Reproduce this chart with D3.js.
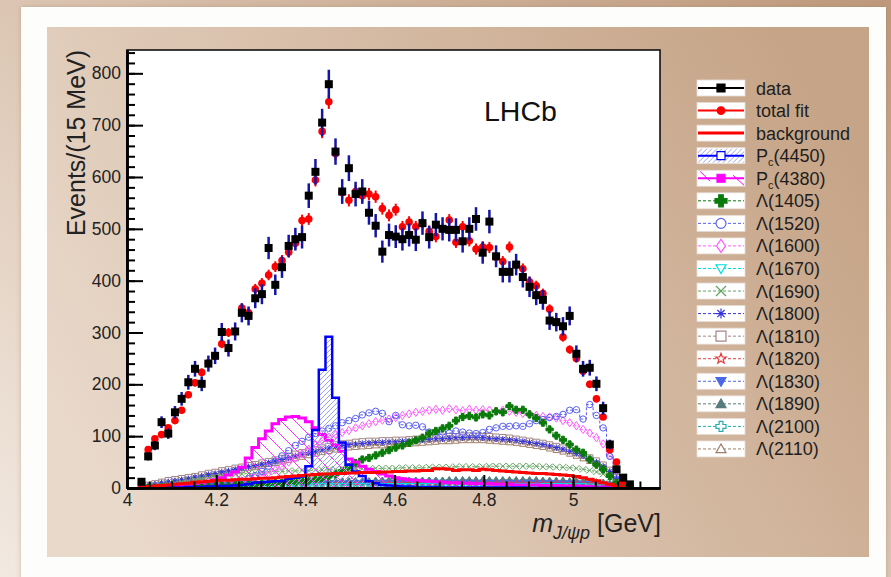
<!DOCTYPE html>
<html>
<head>
<meta charset="utf-8">
<script src="https://cdn.jsdelivr.net/npm/d3@7"></script>
<style>
  body { margin: 0; }
  svg { display: block; font-family: "Liberation Sans", Arial, Helvetica, sans-serif; }
</style>
</head>
<body>
<svg id="chart" width="891" height="577"></svg>
<script>
// ---- binning of m(J/psi p): 15 MeV bins ----
const binStart = 4.025;
const binWidth = 0.015;

// ---- measured and fitted yields per bin ----
const dataCounts = [12,61,82,127,105,146,172,204,230,201, 240,255,301,270,302,338,332,366,374,463,
  392,426,467,480,484,564,610,705,779,649, 572,617,567,572,531,506,456,488,485,480,
  488,479,511,484,508,500,498,498,476,500, 519,454,514,447,417,417,431,407,388,372,
  363,323,320,312,332,259,230,232,201,154, 84,36,20,7];
const fitCounts = [10,74,95,103,116,130,150,180,203,223, 241,255,278,300,302,347,338,384,395,411,
  427,439,455,472,516,519,594,688,745,645, 570,555,572,564,567,562,539,526,537,504,
  513,504,510,495,485,500,517,474,504,477, 461,465,464,445,437,465,430,423,398,390,
  375,345,320,291,267,250,225,200,172,137, 74,50,13,3];

// ---- fit components ----
const background = [1,3,4,5,6,7,8,9,11,12, 13,14,15,15,16,17,17,18,19,19,
  20,21,22,23,24,25,26,27,27,28, 28,29,29,30,30,30,31,31,32,32,
  33,33,34,34,37,37,36,34,35,35, 34,36,35,34,33,32,31,30,29,28,
  28,27,26,25,24,22,20,17,14,10, 7,4,2,0];
const pc4450 = [0,0,0,0,1,1,1,2,2,2, 3,3,4,4,5,6,7,10,11,12,
  13,13,18,20,22,42,112,228,292,174, 88,45,32,23,13,9,6,5,4,3,
  3,2,2,2,2,1,1,1,1,1, 1,1,1,1,1,1,1,1,0,0,
  0,0,0,0,0,0,0,0,0,0, 0,0,0,0];
const pc4380 = [0,1,1,2,3,4,5,7,9,11, 13,16,20,25,31,40,58,78,95,110,
  124,132,137,138,135,128,116,103,92,83, 71,56,50,42,36,32,27,23,20,18,
  16,15,14,13,12,11,10,10,9,9, 8,8,8,7,7,7,6,6,6,6,
  5,5,5,4,4,4,3,3,2,2, 1,1,0,0];
const lambda1405 = [0,0,0,1,1,1,2,2,2,3, 3,3,4,4,5,5,6,6,7,8,
  9,10,11,12,13,15,17,19,22,27, 33,40,48,55,58,63,68,73,78,82,
  87,92,97,105,110,115,120,130,137,139, 136,142,140,148,146,158,151,151,142,135,
  126,113,101,93,84,74,68,55,45,36, 23,10,3,0];
const lambda1520 = [0,0,0,0,0,0,1,1,2,3, 4,5,6,8,10,13,18,24,32,42,
  52,62,72,82,90,98,105,110,115,120, 126,130,134,141,145,148,144,128,140,122,
  120,121,118,108,106,108,106,110,108,106, 105,107,113,116,119,119,120,119,124,130,
  132,136,138,142,150,151,133,161,140,116, 61,25,8,1];
const lambda1600 = [0,0,0,1,1,2,2,3,4,5, 6,7,8,10,12,14,17,20,24,29,
  35,42,50,58,66,75,84,92,98,103, 107,111,116,120,124,128,131,133,136,140,
  143,146,148,150,152,150,153,151,149,152, 150,151,150,148,150,148,146,144,142,140,
  138,137,135,130,126,120,113,106,97,85, 62,34,12,2];
const lambda1670 = [0,1,1,1,1,1,2,2,2,2, 2,2,2,3,3,3,3,3,3,3,
  3,3,3,3,4,4,4,4,4,4, 4,4,4,4,4,4,4,4,4,4,
  4,4,4,4,4,4,4,4,4,4, 4,4,4,4,4,4,4,4,4,4,
  4,4,4,4,4,4,4,3,3,3, 2,2,1,0];
const lambda1690 = [0,2,4,6,8,10,12,14,16,18, 20,22,23,25,26,27,28,29,30,31,
  32,32,33,33,34,34,35,35,35,36, 36,36,37,37,37,38,38,38,38,39,
  39,39,39,40,40,40,40,41,41,41, 41,41,42,42,42,42,42,42,42,42,
  41,41,40,40,39,38,36,34,31,27, 20,12,5,1];
const lambda1800 = [2,4,7,10,12,14,16,18,21,23, 26,28,31,33,36,38,41,43,46,49,
  52,55,58,62,65,68,71,74,77,80, 82,84,85,86,87,88,88,89,89,90,
  91,92,93,94,95,95,96,97,97,98, 98,97,96,95,94,93,92,90,88,86,
  84,81,78,75,71,67,62,56,50,42, 32,19,7,1];
const lambda1810 = [2,5,8,11,14,16,18,20,22,25, 28,30,33,35,38,40,43,45,48,51,
  54,57,61,65,68,71,74,77,80,83, 85,86,88,89,90,90,91,91,92,92,
  93,94,95,96,97,98,99,99,100,100, 100,99,99,98,97,96,94,92,90,88,
  86,83,80,77,73,69,64,58,52,44, 34,20,8,1];
const lambda1820 = [0,1,1,1,2,2,2,3,3,3, 3,4,4,4,4,5,5,5,5,5,
  6,6,6,6,6,6,7,7,7,7, 7,7,7,7,7,8,8,8,8,8,
  8,8,8,8,8,8,8,8,8,8, 8,8,8,8,8,8,8,8,8,8,
  8,8,8,7,7,7,7,7,6,6, 5,3,1,0];
const lambda1830 = [0,1,1,2,2,3,3,4,4,4, 5,5,5,6,6,6,7,7,7,7,
  8,8,8,8,8,9,9,9,9,9, 9,9,10,10,10,10,10,10,10,10,
  10,10,10,10,10,10,10,10,10,10, 10,10,10,10,10,10,10,10,10,10,
  10,10,9,9,9,9,8,8,8,7, 6,4,2,0];
const lambda1890 = [0,1,2,3,4,5,5,6,7,7, 8,8,9,9,10,10,10,11,11,11,
  12,12,12,12,13,13,13,13,13,14, 14,14,14,14,14,15,15,15,15,15,
  15,15,15,15,15,15,16,16,16,16, 16,16,16,16,16,16,16,16,16,16,
  15,15,15,15,14,14,13,13,12,11, 9,6,3,0];
const lambda2100 = [0,1,2,2,3,4,4,5,5,6, 6,7,7,8,8,8,9,9,9,10,
  10,10,10,11,11,11,11,11,12,12, 12,12,12,12,12,12,13,13,13,13,
  13,13,13,13,13,13,13,13,13,13, 13,13,13,13,13,13,13,13,13,13,
  12,12,12,12,11,11,11,10,10,9, 7,5,2,0];
const lambda2110 = [1,4,7,9,11,13,15,17,19,21, 24,26,28,31,33,35,38,40,43,46,
  48,51,54,57,60,63,66,69,71,74, 76,78,79,80,81,82,82,83,84,84,
  85,86,87,88,89,90,90,91,92,92, 92,92,91,90,89,88,87,85,83,81,
  79,76,73,70,66,62,57,52,46,39, 30,18,7,1];

// ---- axes ----
const xTicks = [4, 4.2, 4.4, 4.6, 4.8, 5];
const xTickLabels = ["4", "4.2", "4.4", "4.6", "4.8", "5"];
const yTicks = [0, 100, 200, 300, 400, 500, 600, 700, 800];

// ---- resonance contributions: names, styles ----
const lambdaNames = ["Λ(1405)","Λ(1520)","Λ(1600)","Λ(1670)","Λ(1690)","Λ(1800)",
  "Λ(1810)","Λ(1820)","Λ(1830)","Λ(1890)","Λ(2100)","Λ(2110)"];
const lambdaSeries = [lambda1405, lambda1520, lambda1600, lambda1670, lambda1690, lambda1800,
  lambda1810, lambda1820, lambda1830, lambda1890, lambda2100, lambda2110];
const lambdaColors = ["#0a7a0a","#5a60f2","#ff5cff","#00dede","#5fa35f","#3434de",
  "#a38585","#e23c3c","#4868e6","#587c7e","#25adad","#a07e6a"];
const lambdaMarkers = ["plus","circle","diamond","triDown","times","asterisk",
  "square","star","triDown","triUp","crossOpen","triUp"];
const lambdaFilled = [true,false,false,false,false,false,false,false,true,true,false,false];

const W = 891, H = 577;
const svg = d3.select("#chart");
const defs = svg.append("defs");

// ---- page backdrop ----
const pageGrad = defs.append("linearGradient").attr("id", "pageGrad")
  .attr("x1", 0).attr("y1", 1).attr("x2", 1).attr("y2", 0);
pageGrad.append("stop").attr("offset", 0).attr("stop-color", "#f2e9e1");
pageGrad.append("stop").attr("offset", 0.5).attr("stop-color", "#dcc6b3");
pageGrad.append("stop").attr("offset", 1).attr("stop-color", "#be997b");
svg.append("rect").attr("width", W).attr("height", H).attr("fill", "url(#pageGrad)");

const shadow = defs.append("filter").attr("id", "cardShadow")
  .attr("x", "-5%").attr("y", "-5%").attr("width", "110%").attr("height", "110%");
shadow.append("feDropShadow").attr("dx", 0).attr("dy", 0).attr("stdDeviation", 2.5)
  .attr("flood-color", "#8a6a50").attr("flood-opacity", 0.35);
svg.append("rect").attr("x", 21).attr("y", 7).attr("width", 865).attr("height", 640)
  .attr("fill", "#fdfdfc").attr("filter", "url(#cardShadow)");

const panelGrad = defs.append("linearGradient").attr("id", "panelGrad")
  .attr("x1", 0).attr("y1", 0.7).attr("x2", 1).attr("y2", 0.3);
panelGrad.append("stop").attr("offset", 0).attr("stop-color", "#e9d9cb");
panelGrad.append("stop").attr("offset", 1).attr("stop-color", "#c6a487");
svg.append("rect").attr("x", 47).attr("y", 27).attr("width", 822).attr("height", 530)
  .attr("fill", "url(#panelGrad)");

// ---- scales ----
const x = d3.scaleLinear().domain([4, 5.195]).range([127, 660]);
const y = d3.scaleLinear().domain([0, 845]).range([488, 50]);
const nBins = dataCounts.length;
const edges = d3.range(nBins + 1).map(k => binStart + k * binWidth);
const centers = d3.range(nBins).map(k => binStart + (k + 0.5) * binWidth);

svg.append("rect").attr("x", 127).attr("y", 50).attr("width", 533).attr("height", 438).attr("fill", "#fff");
defs.append("clipPath").attr("id", "plotClip").append("rect")
  .attr("x", 127).attr("y", 50).attr("width", 533).attr("height", 438);

// hatch patterns
const hatchBlue = defs.append("pattern").attr("id", "hatchBlue").attr("patternUnits", "userSpaceOnUse")
  .attr("width", 5).attr("height", 5);
hatchBlue.append("path").attr("d", "M0,5L5,0M-1,1L1,-1M4,6L6,4")
  .attr("stroke", "#9ba2ec").attr("stroke-width", 1);
const hatchMag = defs.append("pattern").attr("id", "hatchMag").attr("patternUnits", "userSpaceOnUse")
  .attr("width", 14).attr("height", 14);
hatchMag.append("path").attr("d", "M0,0L14,14M-1,13L1,15M13,-1L15,1")
  .attr("stroke", "#ff33ff").attr("stroke-width", 1);

// ---- marker shapes ----
function markerPath(type, s) {
  const w = s * 0.38;
  switch (type) {
    case "square": return `M${-s},${-s}h${2*s}v${2*s}h${-2*s}Z`;
    case "circle": return `M${s},0A${s},${s} 0 1,1 ${-s},0A${s},${s} 0 1,1 ${s},0Z`;
    case "diamond": return `M0,${-s*1.3}L${s*0.9},0L0,${s*1.3}L${-s*0.9},0Z`;
    case "triDown": return `M${-s},${-s*0.75}L${s},${-s*0.75}L0,${s}Z`;
    case "triUp": return `M${-s},${s*0.75}L${s},${s*0.75}L0,${-s}Z`;
    case "times": return `M${-s},${-s}L${s},${s}M${-s},${s}L${s},${-s}`;
    case "asterisk": {
      const a = s * 0.72;
      return `M${-s},0H${s}M0,${-s}V${s}M${-a},${-a}L${a},${a}M${-a},${a}L${a},${-a}`;
    }
    case "star": {
      const pts = d3.range(10).map(i => {
        const r = i % 2 === 0 ? s * 1.1 : s * 0.45;
        const ang = -Math.PI / 2 + i * Math.PI / 5;
        return [r * Math.cos(ang), r * Math.sin(ang)];
      });
      return "M" + pts.map(p => p[0].toFixed(2) + "," + p[1].toFixed(2)).join("L") + "Z";
    }
    case "plus":
    case "crossOpen":
      return `M${-w},${-s}H${w}V${-w}H${s}V${w}H${w}V${s}H${-w}V${w}H${-s}V${-w}H${-w}Z`;
  }
  return "";
}

function stepPoints(vals) {
  const pts = vals.map((v, k) => [edges[k], v]);
  pts.push([edges[vals.length], vals[vals.length - 1]]);
  return pts;
}
const stepLine = d3.line().x(d => x(d[0])).y(d => y(d[1])).curve(d3.curveStepAfter);
const stepArea = d3.area().x(d => x(d[0])).y0(y(0)).y1(d => y(d[1])).curve(d3.curveStepAfter);

const plot = svg.append("g").attr("clip-path", "url(#plotClip)");

// ---- Lambda* contributions (dashed step lines with markers) ----
for (let i = lambdaSeries.length - 1; i >= 0; i--) {
  const vals = lambdaSeries[i], col = lambdaColors[i];
  const g = plot.append("g");
  g.append("path").attr("d", stepLine(stepPoints(vals)))
    .attr("fill", "none").attr("stroke", col).attr("stroke-width", 1).attr("stroke-dasharray", "3,2");
  const big = lambdaMarkers[i] === "plus" ? 3.6 : 3.2;
  g.selectAll("path.m").data(vals).join("path").attr("class", "m")
    .attr("transform", (v, k) => `translate(${x(centers[k])},${y(v)})`)
    .attr("d", markerPath(lambdaMarkers[i], big))
    .attr("fill", lambdaFilled[i] ? col : "none")
    .attr("stroke", col).attr("stroke-width", 1);
}

// ---- P_c states ----
plot.append("path").attr("d", stepArea(stepPoints(pc4380))).attr("fill", "url(#hatchMag)");
plot.append("path").attr("d", stepLine(stepPoints(pc4380)))
  .attr("fill", "none").attr("stroke", "#ff00ff").attr("stroke-width", 3);
plot.append("path").attr("d", stepArea(stepPoints(pc4450))).attr("fill", "url(#hatchBlue)");
plot.append("path").attr("d", stepLine(stepPoints(pc4450)))
  .attr("fill", "none").attr("stroke", "#0000ff").attr("stroke-width", 2.5);

// ---- background ----
plot.append("path").attr("d", stepLine(stepPoints(background)))
  .attr("fill", "none").attr("stroke", "#ff0000").attr("stroke-width", 3);

// ---- total fit ----
const fitG = plot.append("g");
fitG.selectAll("line").data(fitCounts).join("line")
  .attr("x1", (v, k) => x(centers[k])).attr("x2", (v, k) => x(centers[k]))
  .attr("y1", v => y(v - 0.5 * Math.sqrt(v))).attr("y2", v => y(v + 0.5 * Math.sqrt(v)))
  .attr("stroke", "#ff0000").attr("stroke-width", 2);
fitG.selectAll("circle").data(fitCounts).join("circle")
  .attr("cx", (v, k) => x(centers[k])).attr("cy", v => y(v)).attr("r", 3.8).attr("fill", "#ff0000");

// ---- data ----
const dataG = plot.append("g");
dataG.selectAll("line").data(dataCounts).join("line")
  .attr("x1", (v, k) => x(centers[k])).attr("x2", (v, k) => x(centers[k]))
  .attr("y1", v => y(v - Math.sqrt(v))).attr("y2", v => y(v + Math.sqrt(v)))
  .attr("stroke", "#1414a8").attr("stroke-width", 2.5);
dataG.selectAll("rect").data(dataCounts).join("rect")
  .attr("x", (v, k) => x(centers[k]) - 4).attr("y", v => y(v) - 4)
  .attr("width", 8).attr("height", 8).attr("fill", "#000");

// ---- frame and axes ----
svg.append("rect").attr("x", 127).attr("y", 50).attr("width", 533).attr("height", 438)
  .attr("fill", "none").attr("stroke", "#111").attr("stroke-width", 1.6);

const yMinor = d3.range(0, 845, 20);
const xMinor = d3.range(4, 5.19, 0.05);
const yAxisMinor = svg.append("g").attr("transform", "translate(127,0)")
  .call(d3.axisLeft(y).tickValues(yMinor).tickSize(-8).tickSizeOuter(0).tickFormat(""));
const yAxis = svg.append("g").attr("transform", "translate(127,0)")
  .call(d3.axisLeft(y).tickValues(yTicks).tickSize(-16).tickSizeOuter(0).tickPadding(6));
const xAxisMinor = svg.append("g").attr("transform", "translate(0,488)")
  .call(d3.axisBottom(x).tickValues(xMinor).tickSize(-6.5).tickSizeOuter(0).tickFormat(""));
const xAxis = svg.append("g").attr("transform", "translate(0,488)")
  .call(d3.axisBottom(x).tickValues(xTicks).tickSize(-13).tickSizeOuter(0).tickPadding(6)
    .tickFormat((d, i) => xTickLabels[i]));
[yAxisMinor, yAxis, xAxisMinor, xAxis].forEach(a => {
  a.selectAll(".tick line").attr("stroke", "#000").attr("stroke-width", 2);
  a.select(".domain").attr("stroke", "#000").attr("stroke-width", 2.6);
  a.selectAll("text").attr("font-size", 17.5).attr("fill", "#222")
    .attr("font-family", "'Liberation Sans', Arial, sans-serif");
});

// axis titles
svg.append("text").attr("transform", "translate(85,143) rotate(-90)")
  .attr("text-anchor", "middle").attr("font-size", 25).attr("fill", "#222")
  .text("Events/(15 MeV)");
const xt = svg.append("text").attr("x", 661).attr("y", 532).attr("text-anchor", "end")
  .attr("font-size", 25).attr("fill", "#222");
xt.append("tspan").attr("font-style", "italic").text("m");
xt.append("tspan").attr("font-style", "italic").attr("font-size", 18).attr("dy", 7).text("J/ψp");
xt.append("tspan").attr("dy", -7).text(" [GeV]");

svg.append("text").attr("x", 484).attr("y", 121).attr("font-size", 28.5).attr("fill", "#111").text("LHCb");

// ---- legend ----
const legendEntries = [
  { label: "data", color: "#000", line: 2, marker: "square", filled: true, ms: 4 },
  { label: "total fit", color: "#ff0000", line: 2, marker: "circle", filled: true, ms: 3.8 },
  { label: "background", color: "#ff0000", line: 3, marker: null },
  { label: "P_c(4450)", color: "#0000ff", line: 2, marker: "square", filled: false, ms: 4, hatch: "url(#hatchBlue)" },
  { label: "P_c(4380)", color: "#ff00ff", line: 2, marker: "square", filled: true, ms: 4, sparse: true }
].concat(lambdaNames.map((n, i) => ({
  label: n, color: lambdaColors[i], line: 1, dash: true, marker: lambdaMarkers[i],
  filled: lambdaFilled[i], ms: lambdaMarkers[i] === "plus" ? 6 : 5
})));

const lg = svg.append("g");
legendEntries.forEach((e, i) => {
  const cy = 88 + i * 22.56;
  const g = lg.append("g").attr("transform", `translate(0,${cy})`);
  g.append("rect").attr("x", 697).attr("y", -8).attr("width", 48).attr("height", 16)
    .attr("fill", "#fff").attr("stroke", "#e6dcd4").attr("stroke-width", 0.8);
  if (e.hatch) {
    g.append("rect").attr("x", 698).attr("y", -7).attr("width", 46).attr("height", 14).attr("fill", e.hatch);
  }
  if (e.sparse) {
    g.append("path").attr("d", "M700,-7L710,3M733,-3L744,7").attr("stroke", "#ff00ff").attr("stroke-width", 1);
  }
  g.append("line").attr("x1", 698).attr("x2", 744).attr("y1", 0).attr("y2", 0)
    .attr("stroke", e.color).attr("stroke-width", e.line)
    .attr("stroke-dasharray", e.dash ? "3,2" : null);
  if (e.marker) {
    g.append("path").attr("transform", "translate(721,0)").attr("d", markerPath(e.marker, e.ms))
      .attr("fill", e.filled ? e.color : "#fff").attr("stroke", e.color).attr("stroke-width", 1.2);
  }
  const t = g.append("text").attr("x", 756).attr("y", 6.5).attr("font-size", 18).attr("fill", "#1e1e1e");
  const parts = e.label.split("_c");
  if (parts.length === 2) {
    t.append("tspan").text(parts[0]);
    t.append("tspan").attr("font-size", 11).attr("dy", 4).text("c");
    t.append("tspan").attr("dy", -4).text(parts[1]);
  } else {
    t.text(e.label);
  }
});
</script>
</body>
</html>
